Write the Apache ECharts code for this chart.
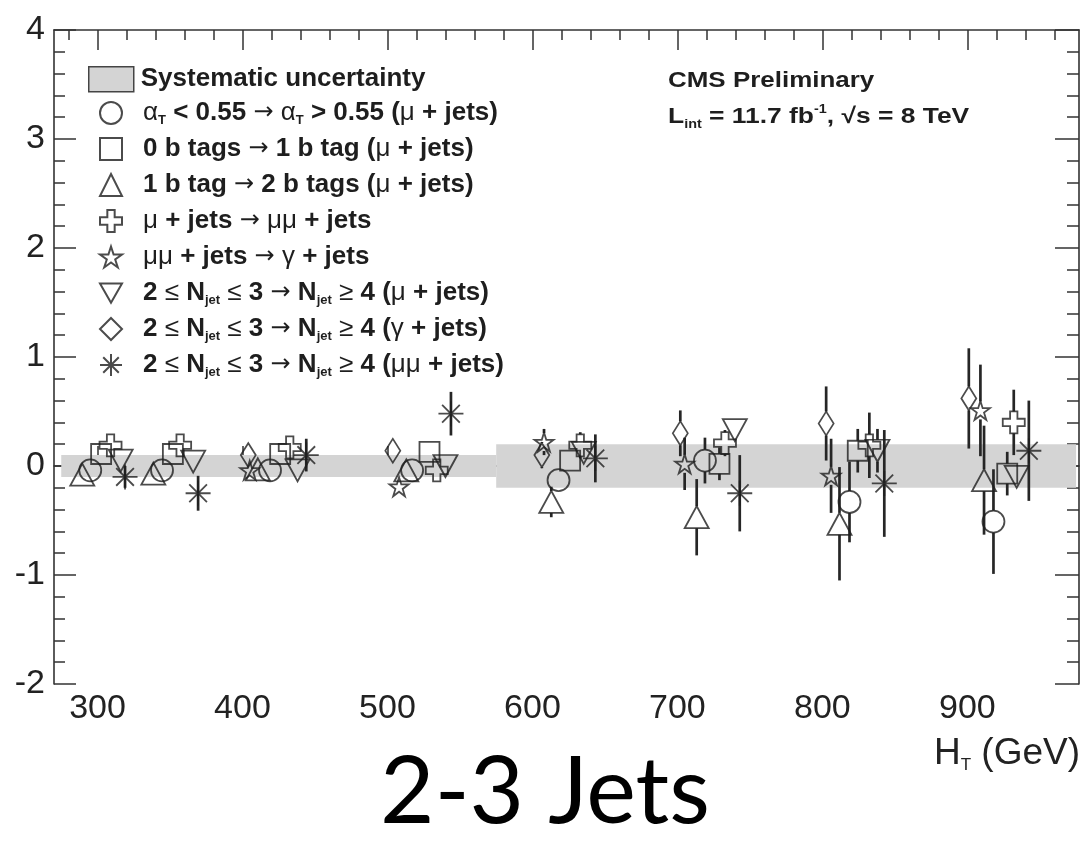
<!DOCTYPE html>
<html><head><meta charset="utf-8">
<script src="https://cdn.jsdelivr.net/npm/echarts@6/dist/echarts.min.js"></script>
<style>html,body{margin:0;padding:0;background:#fff}#c{width:1087px;height:845px}</style>
</head><body><div id="c"></div>
<script>
// ---- axis / tick definitions ----
const xMin = 270, xMax = 977;
const xMajorTicks = [300, 400, 500, 600, 700, 800, 900];
const xMinorTicks = [280, 320, 340, 360, 380, 420, 440, 460, 480, 520, 540, 560, 580, 620, 640, 660, 680, 720, 740, 760, 780, 820, 840, 860, 880, 920, 940, 960];
const yMin = -2, yMax = 4;

// ---- systematic band ----
const bandStart = [275, 575];
const bandEnd = [575, 975];
const bandHalf = [0.1, 0.2];

// ---- data (x = H_T in GeV, y = value, err = half error) ----
const alphaT_x = [295, 344.5, 419, 517, 618, 719, 818.7, 918];
const alphaT_y = [-0.04, -0.04, -0.04, -0.04, -0.13, 0.05, -0.33, -0.51];
const alphaT_e = [0.04, 0.04, 0.05, 0.06, 0.10, 0.21, 0.37, 0.48];

const btag01_x = [302.5, 352, 426, 529, 626, 729, 824.4, 927.5];
const btag01_y = [0.11, 0.11, 0.11, 0.13, 0.05, 0.02, 0.14, -0.07];
const btag01_e = [0.03, 0.03, 0.04, 0.05, 0.07, 0.15, 0.20, 0.20];

const btag12_x = [289.5, 338.5, 410.6, 513, 613, 713.3, 811.8, 911.5];
const btag12_y = [-0.08, -0.07, -0.03, -0.04, -0.33, -0.47, -0.53, -0.13];
const btag12_e = [0.03, 0.03, 0.05, 0.06, 0.14, 0.35, 0.52, 0.50];

const mumu_x = [309, 357, 432.6, 534, 633, 732.8, 832.4, 932];
const mumu_y = [0.19, 0.19, 0.17, -0.04, 0.19, 0.21, 0.19, 0.40];
const mumu_e = [0.04, 0.04, 0.05, 0.06, 0.12, 0.12, 0.30, 0.30];

const gamma_x = [405, 508, 608, 705, 806, 909];
const gamma_y = [-0.04, -0.19, 0.22, 0.02, -0.09, 0.51];
const gamma_e = [0.05, 0.06, 0.12, 0.24, 0.34, 0.42];

const njMu_x = [316, 366, 438, 540, 635.4, 739.6, 838, 934];
const njMu_y = [0.05, 0.04, -0.04, 0.00, 0.12, 0.33, 0.14, -0.10];
const njMu_e = [0.03, 0.03, 0.05, 0.05, 0.08, 0.10, 0.20, 0.10];

const njGam_x = [404, 503.7, 606.5, 702, 802.6, 901];
const njGam_y = [0.10, 0.14, 0.10, 0.30, 0.39, 0.62];
const njGam_e = [0.05, 0.06, 0.12, 0.21, 0.34, 0.46];

const njMuMu_x = [319, 369.4, 444, 543.8, 643.4, 743, 842.7, 942.4];
const njMuMu_y = [-0.10, -0.25, 0.10, 0.48, 0.07, -0.25, -0.16, 0.14];
const njMuMu_e = [0.10, 0.16, 0.15, 0.20, 0.22, 0.35, 0.49, 0.46];

// ---- names ----
const seriesNames = [
  'αT < 0.55 → αT > 0.55 (μ + jets)',
  '0 b tags → 1 b tag (μ + jets)',
  '1 b tag → 2 b tags (μ + jets)',
  'μ + jets → μμ + jets',
  'μμ + jets → γ + jets',
  '2 ≤ Njet ≤ 3 → Njet ≥ 4 (μ + jets)',
  '2 ≤ Njet ≤ 3 → Njet ≥ 4 (γ + jets)',
  '2 ≤ Njet ≤ 3 → Njet ≥ 4 (μμ + jets)'
];
const bandName = 'Systematic uncertainty';
const njetPre = '{b|2 }{g|≤}{b| N}{s|jet}{g| ≤ }{b|3 }{a|→}{b| N}{s|jet}{g| ≥ }{b|4 (}';
const richNames = {};
richNames[seriesNames[0]] = '{g|α}{s|T}{b| < 0.55 }{a|→}{g| α}{s|T}{b| > 0.55 (}{g|μ}{b| + jets)}';
richNames[seriesNames[1]] = '{b|0 b tags }{a|→}{b| 1 b tag (}{g|μ}{b| + jets)}{s| }';
richNames[seriesNames[2]] = '{b|1 b tag }{a|→}{b| 2 b tags (}{g|μ}{b| + jets)}{s| }';
richNames[seriesNames[3]] = '{g|μ}{b| + jets }{a|→}{g| μμ}{b| + jets}{s| }';
richNames[seriesNames[4]] = '{g|μμ}{b| + jets }{a|→}{g| γ}{b| + jets}{s| }';
richNames[seriesNames[5]] = njetPre + '{g|μ}{b| + jets)}';
richNames[seriesNames[6]] = njetPre + '{g|γ}{b| + jets)}';
richNames[seriesNames[7]] = njetPre + '{g|μμ}{b| + jets)}';
richNames[bandName] = '{b|Systematic uncertainty}';

// ---- marker definitions (style) ----
const crossPath = 'path://M-1,-3L1,-3L1,-1L3,-1L3,1L1,1L1,3L-1,3L-1,1L-3,1L-3,-1L-1,-1Z';
const starPath = 'path://M0,-1L0.2245,-0.309L0.951,-0.309L0.3633,0.118L0.5878,0.809L0,0.382L-0.5878,0.809L-0.3633,0.118L-0.951,-0.309L-0.2245,-0.309Z';
const dtriPath = 'path://M0,0L2,0L1,1.75Z';
const astPath = 'path://M0,-1L0,1M-1,0L1,0M-0.7071,-0.7071L0.7071,0.7071M-0.7071,0.7071L0.7071,-0.7071';

const markerDefs = [
  {x: alphaT_x, y: alphaT_y, e: alphaT_e, symbol: 'circle', size: 22, gap: 11},
  {x: btag01_x, y: btag01_y, e: btag01_e, symbol: 'rect', size: 20, gap: 10},
  {x: btag12_x, y: btag12_y, e: btag12_e, symbol: 'triangle', size: [24, 22], gap: 11},
  {x: mumu_x, y: mumu_y, e: mumu_e, symbol: crossPath, size: 22, gap: 11},
  {x: gamma_x, y: gamma_y, e: gamma_e, symbol: starPath, size: 19, gap: 9},
  {x: njMu_x, y: njMu_y, e: njMu_e, symbol: dtriPath, size: [24, 22], gap: 11},
  {x: njGam_x, y: njGam_y, e: njGam_e, symbol: 'diamond', size: [15, 24], gap: 12},
  {x: njMuMu_x, y: njMuMu_y, e: njMuMu_e, symbol: astPath, size: 25, gap: 0}
];

const FONT = 'Liberation Sans, Arial, Helvetica, sans-serif';
const ink = '#1e1e1e';

const series = [];
series.push({
  name: bandName,
  type: 'custom',
  silent: true,
  itemStyle: {color: '#d4d4d4'},
  data: bandStart.map((s, i) => [s, bandEnd[i], bandHalf[i]]),
  encode: {x: [0, 1], y: 2},
  renderItem: function (params, api) {
    const p1 = api.coord([api.value(0), api.value(2)]);
    const p2 = api.coord([api.value(1), -api.value(2)]);
    return {type: 'rect', shape: {x: p1[0], y: p1[1], width: p2[0] - p1[0], height: p2[1] - p1[1]},
      style: {fill: '#d4d4d4'}};
  },
  z: 1
});
const errData = [];
markerDefs.forEach(d => d.x.forEach((x, i) => errData.push([x, d.y[i], d.e[i], d.gap])));
series.push({
  type: 'custom', silent: true, z: 2,
  data: errData,
  encode: {x: 0, y: 1},
  renderItem: function (params, api) {
    const x = api.value(0), y = api.value(1), e = api.value(2), g = api.value(3);
    const p = api.coord([x, y]), hi = api.coord([x, y + e]), lo = api.coord([x, y - e]);
    const ch = [];
    const st = {stroke: '#262626', lineWidth: 2.7};
    if (p[1] - g > hi[1]) ch.push({type: 'line', shape: {x1: p[0], y1: hi[1], x2: p[0], y2: p[1] - g}, style: st});
    if (lo[1] > p[1] + g) ch.push({type: 'line', shape: {x1: p[0], y1: p[1] + g, x2: p[0], y2: lo[1]}, style: st});
    return {type: 'group', children: ch};
  }
});
markerDefs.forEach((d, k) => {
  series.push({
    name: seriesNames[k],
    type: 'scatter',
    symbol: d.symbol,
    symbolSize: d.size,
    z: 3,
    silent: true,
    itemStyle: {color: 'rgba(255,255,255,0)', borderColor: ink, borderWidth: 1.8},
    data: d.x.map((x, i) => [x, d.y[i]])
  });
});

const tickLine = {color: '#333', width: 1.5};
const axisLineStyle = {show: true, lineStyle: {color: '#333', width: 1.6}};
const xBase = {type: 'value', min: xMin, max: xMax, splitLine: {show: false}, gridIndex: 0};

const legRich = {
  b: {fontSize: 26, fontWeight: 'bold', fontFamily: FONT, color: ink, lineHeight: 28},
  g: {fontSize: 26, fontWeight: 'normal', fontFamily: FONT, color: ink, lineHeight: 28},
  a: {fontSize: 24, fontWeight: 'normal', fontFamily: 'DejaVu Sans, sans-serif', color: ink, lineHeight: 28},
  s: {fontSize: 13, fontWeight: 'bold', fontFamily: FONT, color: ink, lineHeight: 13, padding: [15, 0, 0, 0]}
};

const option = {
  animation: false,
  backgroundColor: '#fff',
  grid: {left: 54, right: 8, top: 30, bottom: 161},
  xAxis: [
    Object.assign({}, xBase, {position: 'bottom', axisLine: axisLineStyle,
      axisTick: {show: true, inside: true, length: 20, lineStyle: tickLine, customValues: xMajorTicks},
      axisLabel: {show: true, customValues: xMajorTicks, fontSize: 34, fontFamily: FONT, color: '#222', margin: 8}}),
    Object.assign({}, xBase, {position: 'bottom', axisLine: {show: false},
      axisTick: {show: true, inside: true, length: 10, lineStyle: tickLine, customValues: xMinorTicks},
      axisLabel: {show: false}}),
    Object.assign({}, xBase, {position: 'top', axisLine: axisLineStyle,
      axisTick: {show: true, inside: true, length: 20, lineStyle: tickLine, customValues: xMajorTicks},
      axisLabel: {show: false}}),
    Object.assign({}, xBase, {position: 'top', axisLine: {show: false},
      axisTick: {show: true, inside: true, length: 10, lineStyle: tickLine, customValues: xMinorTicks},
      axisLabel: {show: false}})
  ],
  yAxis: [
    {type: 'value', min: yMin, max: yMax, interval: 1, position: 'left', splitLine: {show: false},
      axisLine: axisLineStyle,
      axisTick: {show: true, inside: true, length: 22, lineStyle: tickLine},
      minorTick: {show: true, splitNumber: 5, length: 11, lineStyle: tickLine},
      axisLabel: {fontSize: 34, fontFamily: FONT, color: '#222', margin: 9}},
    {type: 'value', min: yMin, max: yMax, interval: 1, position: 'right', splitLine: {show: false},
      axisLine: axisLineStyle,
      axisTick: {show: true, inside: true, length: 24, lineStyle: tickLine},
      minorTick: {show: true, splitNumber: 5, length: 12, lineStyle: tickLine},
      axisLabel: {show: false}}
  ],
  legend: [
    {data: [{name: bandName, icon: 'rect', itemStyle: {color: '#d4d4d4', borderColor: '#444', borderWidth: 1.5}}],
      left: 83, top: 61, itemWidth: 45, itemHeight: 25, selectedMode: false,
      formatter: n => richNames[n],
      textStyle: {padding: [0, 0, 0, 2], rich: legRich}},
    {data: seriesNames, orient: 'vertical', left: 94, top: 94, itemWidth: 22, itemHeight: 22, itemGap: 8,
      selectedMode: false,
      formatter: n => richNames[n],
      textStyle: {padding: [0, 0, 0, 16], rich: legRich}}
  ],
  graphic: [
    {type: 'text', x: 668, y: 81, scaleX: 1.18, style: {text: 'CMS Preliminary', fontSize: 22, fontWeight: 'bold', fontFamily: FONT, fill: ink, verticalAlign: 'middle'}},
    {type: 'text', x: 668, y: 117, scaleX: 1.2, style: {text: '{b|L}{s|int}{b| = 11.7 fb}{p|-1}{b|, √s = 8 TeV}', verticalAlign: 'middle',
      rich: {
        b: {fontSize: 22, fontWeight: 'bold', fontFamily: FONT, fill: ink, lineHeight: 26},
        s: {fontSize: 12, fontWeight: 'bold', fontFamily: FONT, fill: ink, lineHeight: 12, padding: [16, 0, 0, 0]},
        p: {fontSize: 12, fontWeight: 'bold', fontFamily: FONT, fill: ink, lineHeight: 12, padding: [0, 0, 14, 0]}
      }}},
    {type: 'text', x: 1080, y: 754, style: {text: '{a|H}{s|T}{a| (GeV)}', align: 'right', verticalAlign: 'middle',
      rich: {
        a: {fontSize: 37, fontFamily: FONT, fill: '#222', lineHeight: 40},
        s: {fontSize: 17, fontFamily: FONT, fill: '#222', lineHeight: 17, padding: [23, 0, 0, 0]}
      }}},
    {type: 'text', x: 545, y: 793, style: {text: '2-3 Jets', fontSize: 94, fontFamily: 'Lato, Open Sans, sans-serif', fill: '#000', align: 'center', verticalAlign: 'middle'}}
  ],
  series: series
};
const chart = echarts.init(document.getElementById('c'), null, {renderer: 'canvas'});
chart.setOption(option);
</script></body></html>
